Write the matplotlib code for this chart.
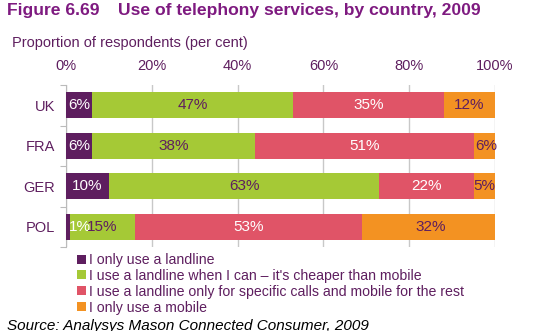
import numpy as np
import matplotlib
matplotlib.use("Agg")
import matplotlib.pyplot as plt
from matplotlib.patches import Patch

plt.rcParams['font.family'] = ['Liberation Sans', 'DejaVu Sans']

countries = ["UK", "FRA", "GER", "POL"]
series_names = [
    "I only use a landline",
    "I use a landline when I can \u2013 it's cheaper than mobile",
    "I use a landline only for specific calls and mobile for the rest",
    "I only use a mobile",
]
only_landline = [6, 6, 10, 1]
landline_cheaper = [47, 38, 63, 15]
landline_specific = [35, 51, 22, 53]
only_mobile = [12, 6, 5, 32]
tick_values = [0, 20, 40, 60, 80, 100]

series = [only_landline, landline_cheaper, landline_specific, only_mobile]
colors = ["#5E1E5F", "#A5C936", "#E05467", "#F39222"]
label_colors = ["white", "#5E1E5F", "white", "#5E1E5F"]
purple = "#5E1E5F"
title_col = "#7E1A80"

fig = plt.figure(figsize=(5.36, 3.31), dpi=100)
W, H = 536, 331
ax = fig.add_axes([66 / W, 1 - 247 / H, 429 / W, 162 / H])

y = np.arange(len(countries))
left = np.zeros(len(countries))
for vals, col, lcol in zip(series, colors, label_colors):
    vals = np.array(vals, dtype=float)
    ax.barh(y, vals, left=left, height=0.65, color=col, zorder=3)
    for yi, (l, v) in enumerate(zip(left, vals)):
        if v < 3:
            # too thin for a centred label, start it at the bar instead
            ax.text(l + 0.6, yi, f"{v:.0f}%", ha="left", va="center",
                    color=lcol, fontsize=11, zorder=4)
        else:
            ax.text(l + v / 2, yi, f"{v:.0f}%", ha="center", va="center",
                    color=lcol, fontsize=11, zorder=4)
    left += vals

ax.set_xlim(0, 100)
ax.set_ylim(len(countries) - 0.5, -0.5)
ax.set_xticks(tick_values)
ax.set_xticklabels([f"{t}%" for t in tick_values], color=purple, fontsize=10.5)
ax.xaxis.tick_top()
ax.tick_params(axis="x", length=0, pad=9)
ax.set_yticks(np.arange(-0.5, len(countries)), minor=False)
ax.set_yticklabels([])
ax.set_yticks(y, minor=True)
ax.set_yticklabels(countries, minor=True, color=purple, fontsize=10.5)
ax.tick_params(axis="y", which="major", length=4, color="#BBBBBB", direction="out")
ax.tick_params(axis="y", which="minor", length=0, pad=8)
ax.grid(axis="x", color="#C8C8C8", linewidth=1, zorder=0)
for s in ["top", "right", "bottom"]:
    ax.spines[s].set_visible(False)
ax.spines["left"].set_color("#BBBBBB")

fig.text(7 / W, 1 - 11 / H, "Figure 6.69", color=title_col, fontsize=12.6,
         fontweight="bold", va="center")
fig.text(118 / W, 1 - 11 / H, "Use of telephony services, by country, 2009",
         color=title_col, fontsize=12.6, fontweight="bold", va="center")
fig.text(12 / W, 1 - 43 / H, "Proportion of respondents (per cent)",
         color=purple, fontsize=10.5, va="center")

handles = [Patch(facecolor=c) for c in colors]
leg = fig.legend(handles, series_names, loc="upper left",
                 bbox_to_anchor=(70 / W, 1 - 246 / H), frameon=False,
                 handlelength=0.6, handleheight=0.6, handletextpad=0.25,
                 labelspacing=0.13, fontsize=10.2, borderpad=0)
for t in leg.get_texts():
    t.set_color(purple)

fig.text(7 / W, 1 - 326 / H, "Source: Analysys Mason Connected Consumer, 2009",
         fontsize=11, style="italic", color="black", va="center")

fig.savefig("out.png", dpi=100)
